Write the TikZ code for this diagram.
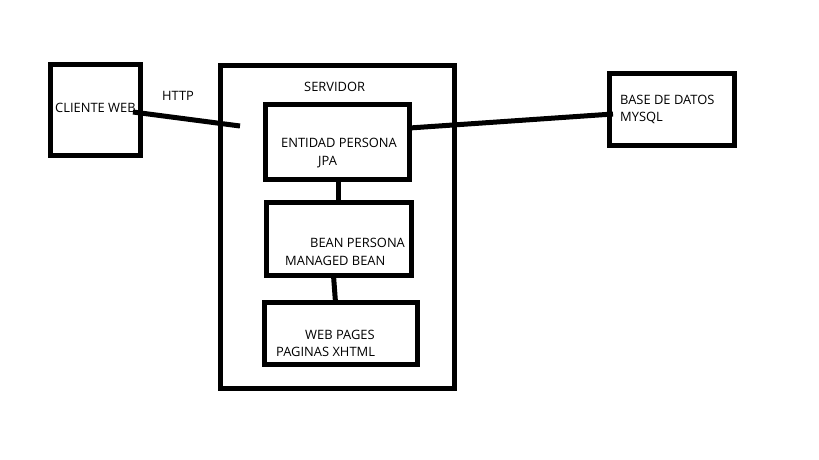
\documentclass[tikz,border=0pt]{standalone}
\usepackage{fontspec}
\setmainfont{Open Sans}
\begin{document}
\begin{tikzpicture}[x=1pt,y=-1pt,
  box/.style={draw,line width=5pt,inner sep=0pt,outer sep=0pt},
  lbl/.style={anchor=west,inner sep=0pt,font=\fontsize{12.9}{14}\selectfont},
  conn/.style={line width=5pt}]
\useasboundingbox (0,0) rectangle (819,460);
% boxes
\node[box,minimum width=90pt,minimum height=91pt] (cli) at (95.5,110) {};
\node[box,minimum width=234pt,minimum height=323pt] (srv) at (337.5,227) {};
\node[box,minimum width=144pt,minimum height=75pt] (ent) at (337.5,142) {};
\node[box,minimum width=145pt,minimum height=73pt] (bean) at (339,239) {};
\node[box,minimum width=153pt,minimum height=62pt] (web) at (341,333.5) {};
\node[box,minimum width=125pt,minimum height=72pt] (db) at (672,109.5) {};
% labels
\node[lbl] (tcli) at (55,108) {CLIENTE WEB};
\node[lbl] (thttp) at (162,96) {HTTP};
\node[lbl] (tsrv) at (304,87) {SERVIDOR};
\node[lbl] (tent1) at (281,143) {ENTIDAD PERSONA};
\node[lbl] (tent2) at (318,162) {JPA};
\node[lbl] (tbean1) at (310,243) {BEAN PERSONA};
\node[lbl] (tbean2) at (285,261) {MANAGED BEAN};
\node[lbl] (tweb1) at (305,335) {WEB PAGES};
\node[lbl] (tweb2) at (276,352) {PAGINAS XHTML};
\node[lbl] (tdb1) at (620,100) {BASE DE DATOS};
\node[lbl] (tdb2) at (620,118) {MYSQL};
% connectors
\coordinate (httpA) at (133,112);
\coordinate (httpB) at (240,126);
\draw[conn] (httpA) -- (httpB);
\draw[conn] ([yshift=14pt]ent.east) -- ([xshift=3.5pt,yshift=-4.5pt]db.west);
\draw[conn] ([xshift=0.5pt]ent.south) -- ([xshift=-1pt]bean.north);
\draw[conn] ([xshift=-5.5pt]bean.south) -- ([xshift=-5.5pt]web.north);
\end{tikzpicture}
\end{document}
